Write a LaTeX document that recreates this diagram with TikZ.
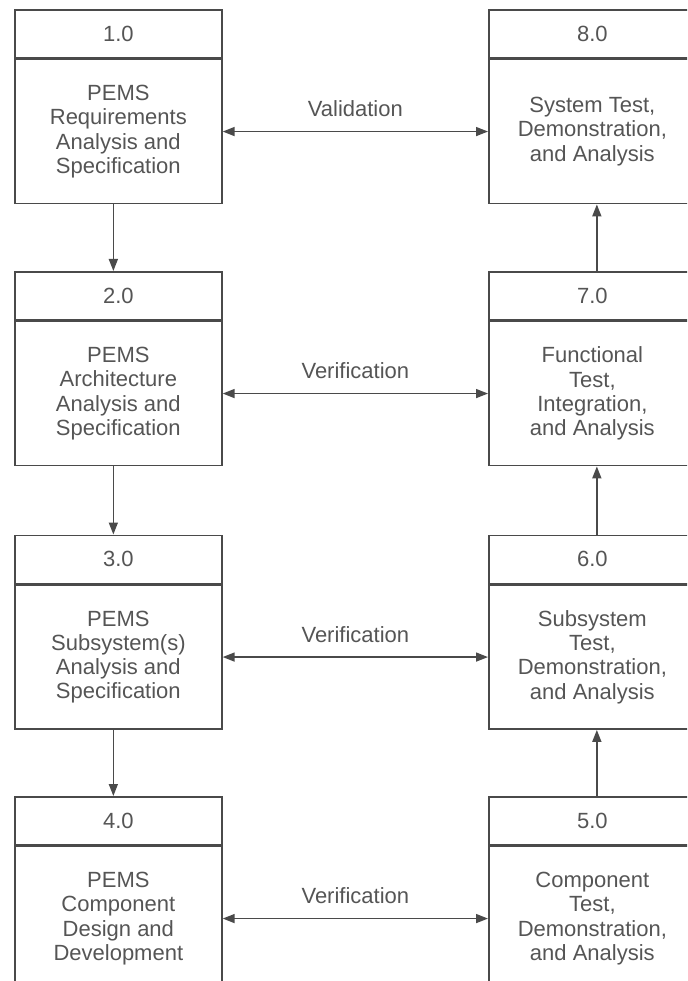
\documentclass[tikz,border=0pt]{standalone}
\usepackage{fontspec}
\setmainfont{Liberation Sans}
\usetikzlibrary{arrows.meta}
\definecolor{lc}{HTML}{4A4A4A}
\definecolor{tc}{HTML}{555555}
\begin{document}
\begin{tikzpicture}[x=1pt,y=-1pt,
  boxfont/.style={font=\fontsize{22}{24.3}\selectfont},
  hdr/.style={draw=lc,line width=1.7pt,minimum width=207pt,minimum height=48pt,inner sep=0pt,text=tc,boxfont,anchor=north west},
  bdy/.style={draw=lc,line width=1.7pt,minimum width=207pt,minimum height=144pt,inner sep=0pt,text=tc,align=center,boxfont,anchor=north west},
  tip/.tip={Triangle[length=12pt,width=9pt]},
  arr/.style={draw=lc,line width=1.6pt,-tip},
  darr/.style={draw=lc,line width=1.6pt,tip-tip},
  lbl/.style={text=tc,boxfont,inner sep=0pt}]
\path[use as bounding box] (0,0) rectangle (687,981);
\clip (0,0) rectangle (687,981);
% left column
\node[hdr] (h1) at (14,9) {1.0};
\node[bdy] (b1) at (h1.south west) {PEMS\\Requirements\\Analysis and\\Specification};
\node[hdr] (h2) at (14,271) {2.0};
\node[bdy] (b2) at (h2.south west) {PEMS\\Architecture\\Analysis and\\Specification};
\node[hdr] (h3) at (14,534.5) {3.0};
\node[bdy] (b3) at (h3.south west) {PEMS\\Subsystem(s)\\Analysis and\\Specification};
\node[hdr] (h4) at (14,796) {4.0};
\node[bdy] (b4) at (h4.south west) {PEMS\\Component\\Design and\\Development};
% right column
\node[hdr] (h8) at (488,9) {8.0};
\node[bdy] (b8) at (h8.south west) {System Test,\\Demonstration,\\and Analysis};
\node[hdr] (h7) at (488,271) {7.0};
\node[bdy] (b7) at (h7.south west) {Functional\\Test,\\Integration,\\and Analysis};
\node[hdr] (h6) at (488,534.5) {6.0};
\node[bdy] (b6) at (h6.south west) {Subsystem\\Test,\\Demonstration,\\and Analysis};
\node[hdr] (h5) at (488,796) {5.0};
\node[bdy] (b5) at (h5.south west) {Component\\Test,\\Demonstration,\\and Analysis};
% vertical arrows
\draw[arr] ([xshift=-5pt]b1.south) -- ([xshift=-5pt]h2.north);
\draw[arr] ([xshift=-5pt]b2.south) -- ([xshift=-5pt]h3.north);
\draw[arr] ([xshift=-5pt]b3.south) -- ([xshift=-5pt]h4.north);
\draw[arr] ([xshift=4.5pt]h5.north) -- ([xshift=4.5pt]b6.south);
\draw[arr] ([xshift=4.5pt]h6.north) -- ([xshift=4.5pt]b7.south);
\draw[arr] ([xshift=4.5pt]h7.north) -- ([xshift=4.5pt]b8.south);
% horizontal arrows
\draw[darr] (b1.east) -- node[lbl,midway,anchor=south,yshift=14pt] {Validation} (b8.west);
\draw[darr] (b2.east) -- node[lbl,midway,anchor=south,yshift=14pt] {Verification} (b7.west);
\draw[darr] (b3.east) -- node[lbl,midway,anchor=south,yshift=14pt] {Verification} (b6.west);
\draw[darr] (b4.east) -- node[lbl,midway,anchor=south,yshift=14pt] {Verification} (b5.west);
\end{tikzpicture}
\end{document}
